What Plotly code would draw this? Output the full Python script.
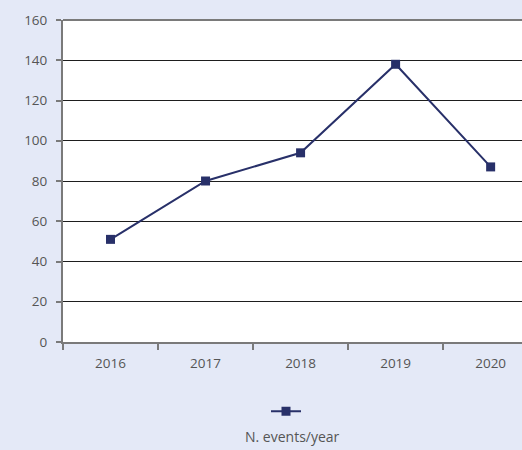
import plotly.graph_objects as go

years = ["2016", "2017", "2018", "2019", "2020"]
events = [51, 80, 94, 138, 87]
series_name = "N. events/year"
y_ticks = [0, 20, 40, 60, 80, 100, 120, 140, 160]

navy = "#283069"
grey = "#7a7a7a"
bg = "#e4e9f7"
font_family = "Open Sans, Noto Sans, sans-serif"

fig = go.Figure()
fig.add_trace(go.Scatter(
    x=years, y=events, name=series_name, mode="lines+markers",
    line=dict(color=navy, width=2),
    marker=dict(symbol="square", size=9, color=navy),
    showlegend=True,
))

fig.update_layout(
    width=522, height=450,
    margin=dict(l=63, r=0, t=20, b=108),
    paper_bgcolor=bg, plot_bgcolor="white",
    font=dict(family=font_family, size=13.5, color="#555555"),
    showlegend=True,
    legend=dict(
        orientation="h", x=0.5, xanchor="center", y=-0.215, yanchor="middle",
        font=dict(size=1, color="rgba(0,0,0,0)"),
        bgcolor="rgba(0,0,0,0)", itemwidth=30,
    ),
    xaxis=dict(
        type="category", range=[-0.5, 4.33],
        tickson="boundaries", ticks="outside", ticklen=6, tickcolor=grey, tickwidth=1.5,
        showline=True, linecolor=grey, linewidth=2,
        showgrid=False, zeroline=False, ticklabelstandoff=8,
        fixedrange=True,
    ),
    yaxis=dict(
        range=[0, 160], tickvals=y_ticks, ticks="outside", ticklen=5,
        tickcolor=grey, tickwidth=1.5,
        showline=True, linecolor=grey, linewidth=2,
        showgrid=True, gridcolor="#1e1e1e", gridwidth=1,
        zeroline=False, ticklabelstandoff=6,
    ),
    shapes=[dict(type="line", xref="paper", yref="paper", x0=0, x1=1, y0=1, y1=1,
                 line=dict(color=grey, width=2))],
    annotations=[dict(text=series_name, xref="paper", yref="paper",
                      x=0.5, y=-0.295, xanchor="center", yanchor="middle",
                      showarrow=False, font=dict(size=14, color="#555555"))],
)

fig.write_html("out.html", config={"displayModeBar": False},
               post_script="document.body.style.margin='0';document.body.style.overflow='hidden';")
